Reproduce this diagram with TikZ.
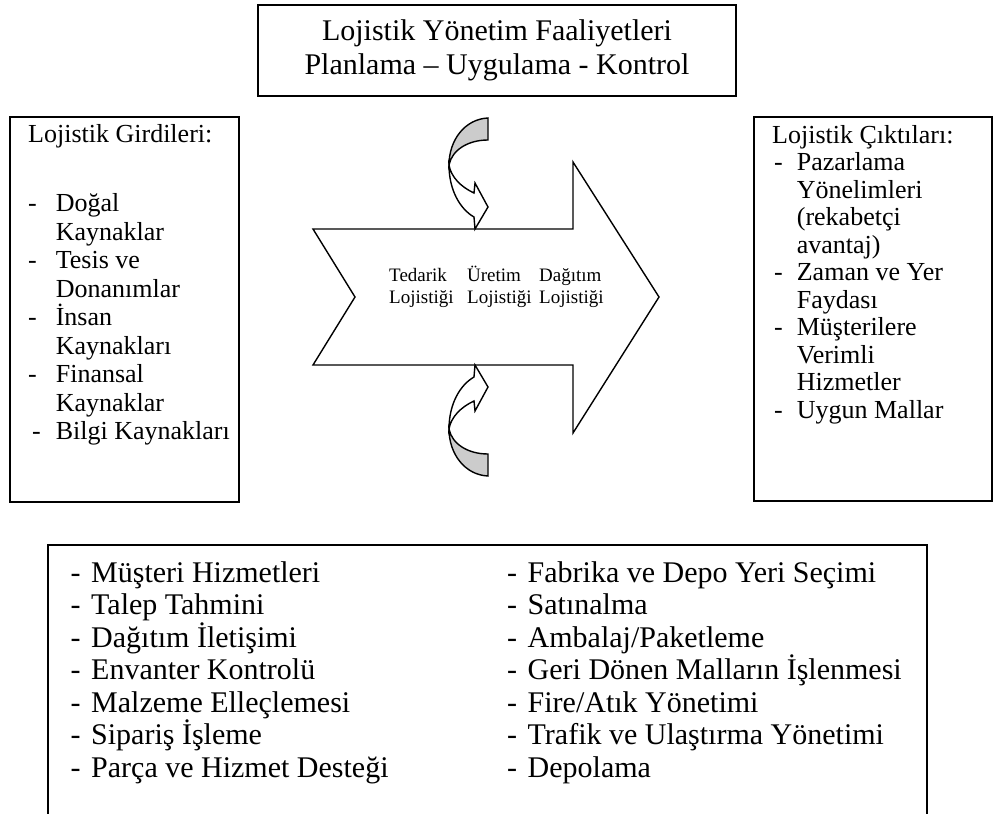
\documentclass[tikz,border=0pt]{standalone}
\usepackage{fontspec}
\usepackage{array}
\setmainfont{Liberation Serif}
\newcolumntype{L}{>{\setbox0=\hbox\bgroup}l<{\egroup\ht0=0pt\dp0=0pt\box0}}
\tikzset{
	boxline/.style={draw=black, line width=1.6pt},
	arrowline/.style={draw=black, line width=1.4pt, fill=white},
	backpart/.style={draw=black, line width=1.4pt, fill=gray!40},
	listtext/.style={anchor=base west, inner sep=0pt},
}
\begin{document}
\begin{tikzpicture}[x=1pt,y=-1pt]
	\useasboundingbox (0,0) rectangle (994,814);
	\draw[boxline] (258,5) rectangle (736,96) node[pos=.5, align=center, font=\fontsize{30}{34}\selectfont] (yonetim) {Lojistik Yönetim Faaliyetleri\\Planlama – Uygulama - Kontrol};
	\draw[boxline] (10,117) rectangle (239,502);
	\draw[boxline] (754,117) rectangle (992,501);
	\draw[boxline] (48,820) -- (48,545) -- (927,545) -- (927,820);
	\node[listtext, font=\fontsize{26}{28.5}\selectfont] (girdi) at (28,142) {\begin{tabular}[t]{@{}L@{\hspace{15pt}}L@{}}
		\multicolumn{2}{@{}l@{}}{Lojistik Girdileri:}\\[41pt]
		- & Doğal\\
		  & Kaynaklar\\
		- & Tesis ve\\
		  & Donanımlar\\
		- & İnsan\\
		  & Kaynakları\\
		- & Finansal\\
		  & Kaynaklar\\
		\hspace{4pt}- & Bilgi Kaynakları
	\end{tabular}};
	\node[listtext, font=\fontsize{26}{27.5}\selectfont] (cikti) at (772,143) {\begin{tabular}[t]{@{\hspace{2pt}}L@{\hspace{14pt}}L@{}}
		\multicolumn{2}{@{}l@{}}{\smash{Lojistik Çıktıları:}}\\
		- & Pazarlama\\
		  & Yönelimleri\\
		  & (rekabetçi\\
		  & avantaj)\\
		- & Zaman ve Yer\\
		  & Faydası\\
		- & Müşterilere\\
		  & Verimli\\
		  & Hizmetler\\
		- & Uygun Mallar
	\end{tabular}};
	\draw[arrowline] (313,229) -- (573,229) -- (573,162) -- (659,297) -- (573,433) -- (573,365) -- (313,365) -- (355,297) -- cycle;
	\foreach \s/\o in {1/0,-1/594}{
		\begin{scope}[shift={(0,\o)}, yscale=\s]
			\draw[backpart] (488,118) .. controls (465,119) and (449,140) .. (449,165) .. controls (452,150) and (468,140) .. (488,140) -- cycle;
			\draw[arrowline] (449,165) .. controls (449,190) and (460,209) .. (474,217) -- (475,229) -- (488,207) -- (475,183) -- (474,193) .. controls (461,187) and (451,177) .. (449,165) -- cycle;
		\end{scope}
	}
	\node[listtext, font=\fontsize{19}{22}\selectfont] (tedarik) at (389,281) {\begin{tabular}[t]{@{}L@{}}Tedarik\\Lojistiği\end{tabular}};
	\node[listtext, font=\fontsize{19}{22}\selectfont] (uretim) at (467,281) {\begin{tabular}[t]{@{}L@{}}Üretim\\Lojistiği\end{tabular}};
	\node[listtext, font=\fontsize{19}{22}\selectfont] (dagitim) at (539,281) {\begin{tabular}[t]{@{}L@{}}Dağıtım\\Lojistiği\end{tabular}};
	\node[listtext, font=\fontsize{30}{32.5}\selectfont] (faal1) at (70.5,582) {\begin{tabular}[t]{@{}L@{\hspace{10.5pt}}L@{}}
		- & Müşteri Hizmetleri\\
		- & Talep Tahmini\\
		- & Dağıtım İletişimi\\
		- & Envanter Kontrolü\\
		- & Malzeme Elleçlemesi\\
		- & Sipariş İşleme\\
		- & Parça ve Hizmet Desteği
	\end{tabular}};
	\node[listtext, font=\fontsize{30}{32.5}\selectfont] (faal2) at (507,582) {\begin{tabular}[t]{@{}L@{\hspace{10.5pt}}L@{}}
		- & Fabrika ve Depo Yeri Seçimi\\
		- & Satınalma\\
		- & Ambalaj/Paketleme\\
		- & Geri Dönen Malların İşlenmesi\\
		- & Fire/Atık Yönetimi\\
		- & Trafik ve Ulaştırma Yönetimi\\
		- & Depolama
	\end{tabular}};
\end{tikzpicture}
\end{document}
